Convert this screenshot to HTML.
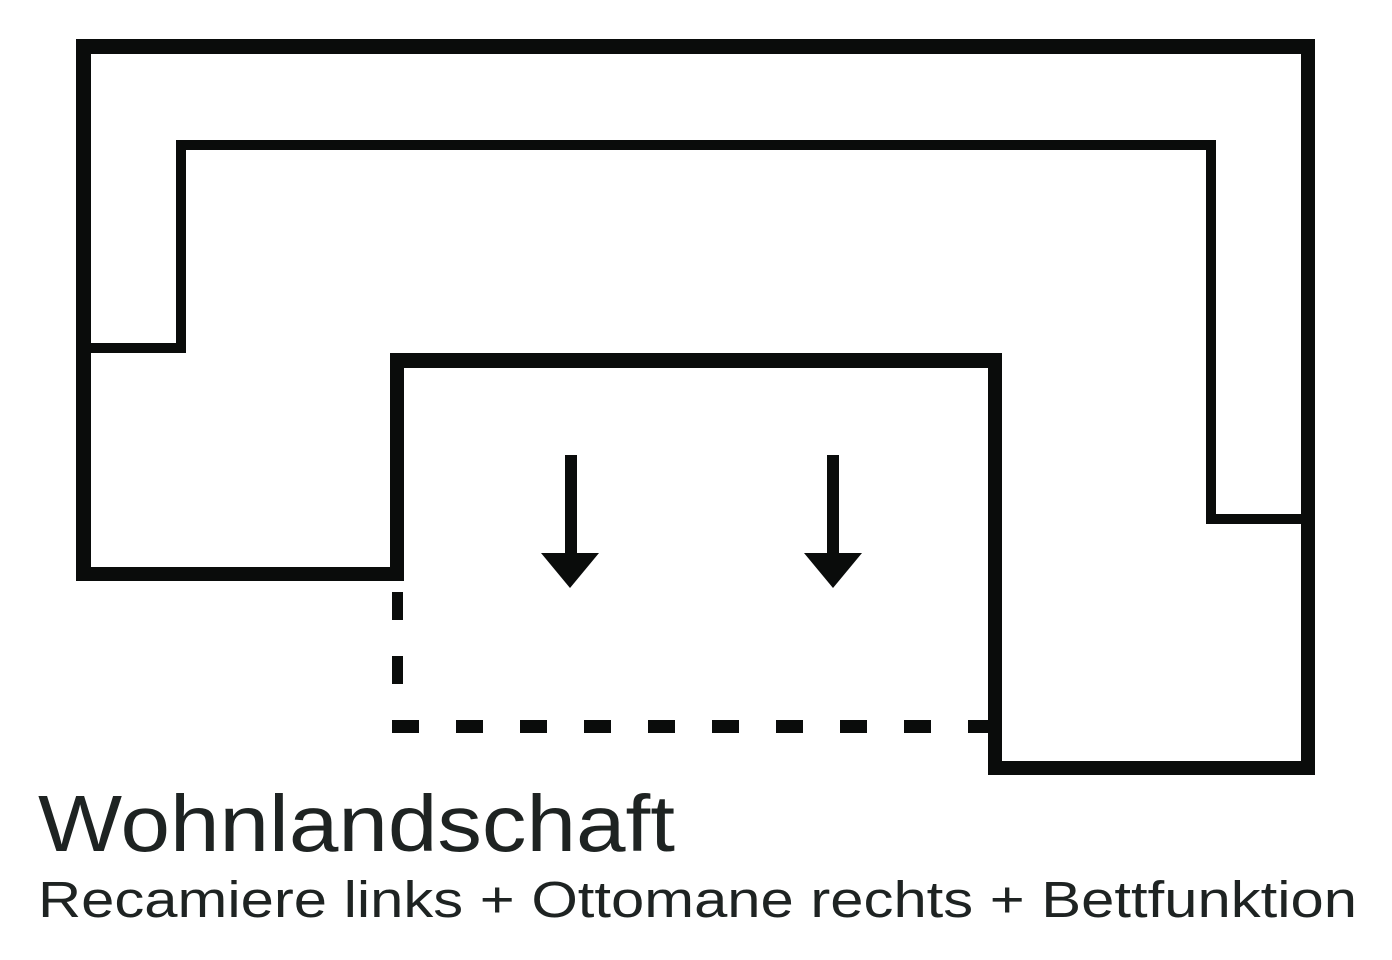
<!DOCTYPE html>
<html><head><style>html,body{margin:0;padding:0;background:#fff;width:1392px;height:960px;overflow:hidden}</style></head>
<body>
<svg width="1392" height="960" viewBox="0 0 1392 960" xmlns="http://www.w3.org/2000/svg">
<g fill="#0a0c0b">
<!-- outer top -->
<rect x="76" y="39" width="1239" height="15"/>
<!-- outer left -->
<rect x="76" y="39" width="15" height="542"/>
<!-- left bottom -->
<rect x="76" y="567" width="328" height="14"/>
<!-- notch left -->
<rect x="390" y="353" width="14" height="228"/>
<!-- notch top -->
<rect x="390" y="353" width="612" height="15"/>
<!-- ottoman left -->
<rect x="988" y="353" width="14" height="422"/>
<!-- bottom right -->
<rect x="988" y="761" width="327" height="14"/>
<!-- outer right -->
<rect x="1301" y="39" width="14" height="736"/>
<!-- inner thin line -->
<rect x="176" y="140" width="1040" height="10"/>
<rect x="176" y="140" width="10" height="213"/>
<rect x="91" y="343" width="95" height="10"/>
<rect x="1206" y="140" width="10" height="384"/>
<rect x="1206" y="514" width="95" height="10"/>
<!-- arrows -->
<rect x="565" y="455" width="12" height="100"/>
<polygon points="541,553 599,553 570,588"/>
<rect x="827" y="455" width="12" height="100"/>
<polygon points="804,553 862,553 833,588"/>
</g>
<g stroke="#0a0c0b" fill="none">
<line x1="397.5" y1="592" x2="397.5" y2="733" stroke-width="11" stroke-dasharray="28 36"/>
<line x1="392" y1="726.5" x2="990" y2="726.5" stroke-width="13" stroke-dasharray="27 37"/>
</g>
<g fill="#1e2322" font-family="Liberation Sans, sans-serif">
<text x="38" y="851" font-size="80" textLength="637" lengthAdjust="spacingAndGlyphs">Wohnlandschaft</text>
<text x="38" y="917" font-size="51" textLength="1319" lengthAdjust="spacingAndGlyphs">Recamiere links + Ottomane rechts + Bettfunktion</text>
</g>
</svg>
</body></html>
